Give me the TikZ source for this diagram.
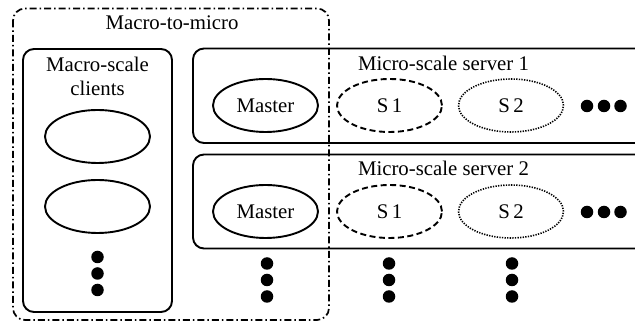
\documentclass[tikz,border=0pt]{standalone}
\usepackage{fontspec}
\setmainfont{Liberation Serif}
\usetikzlibrary{shapes.geometric}
\begin{document}
\begin{tikzpicture}[x=1pt,y=-1pt,
  lw/.style={line width=1.9pt},
  lbl/.style={font=\fontsize{20.8}{24}\selectfont, inner sep=0pt},
  ell/.style={ellipse, draw, lw, minimum width=105pt, minimum height=53pt, inner sep=0pt, font=\fontsize{20.8}{24}\selectfont},
  dashell/.style={ell, dash pattern=on 6pt off 3.5pt},
  dotell/.style={ell, line width=1.6pt, dash pattern=on 1.3pt off 1.3pt},
  bullet/.style={circle, fill=black, draw=none, minimum size=12.5pt, inner sep=0pt},
  dashdot/.style={line width=1.7pt, dash pattern=on 7pt off 3pt on 1.5pt off 3pt}
]
\useasboundingbox (0,0) rectangle (635,328);
% outer dash-dot region
\draw[dashdot, rounded corners=12pt] (13,8.5) rectangle (329,320);
\node[lbl] (m2m) at (172,23) {Macro-to-micro};
% clients box
\draw[lw, rounded corners=11pt] (23,49) rectangle (172,312);
\node[lbl, align=center] (mcl) at (97.5,76) {Macro-scale\\clients};
\node[ell] (c1) at (97.5,136.5) {};
\node[ell] (c2) at (97.5,206.5) {};
\node[bullet] (cd1) at (97.5,257) {};
\node[bullet] (cd2) at (97.5,273.5) {};
\node[bullet] (cd3) at (97.5,290) {};
% server boxes (open at right)
\draw[lw, rounded corners=11pt] (650,48.5) -- (193,48.5) -- (193,143) -- (650,143);
\draw[lw, rounded corners=11pt] (650,154.5) -- (193,154.5) -- (193,248.5) -- (650,248.5);
\node[lbl] (s1lbl) at (443.5,63) {Micro-scale server 1};
\node[lbl] (s2lbl) at (443.5,168) {Micro-scale server 2};
% row 1
\node[ell] (ma1) at (265.5,105.5) {Master};
\node[dashell] (a1) at (389.5,105.5) {S\,1};
\node[dotell] (b1) at (511,105.5) {S\,2};
\node[bullet] (h11) at (587,106) {};
\node[bullet] (h12) at (604,106) {};
\node[bullet] (h13) at (620.5,106) {};
% row 2
\node[ell] (ma2) at (265.5,211.5) {Master};
\node[dashell] (a2) at (389.5,211.5) {S\,1};
\node[dotell] (b2) at (511,211.5) {S\,2};
\node[bullet] (h21) at (587,212) {};
\node[bullet] (h22) at (604,212) {};
\node[bullet] (h23) at (620.5,212) {};
% vertical dots below
\node[bullet] (v11) at (267,263.5) {};
\node[bullet] (v12) at (267,280) {};
\node[bullet] (v13) at (267,296.5) {};
\node[bullet] (v21) at (389,263.5) {};
\node[bullet] (v22) at (389,280) {};
\node[bullet] (v23) at (389,296.5) {};
\node[bullet] (v31) at (512,263.5) {};
\node[bullet] (v32) at (512,280) {};
\node[bullet] (v33) at (512,296.5) {};
\end{tikzpicture}
\end{document}
